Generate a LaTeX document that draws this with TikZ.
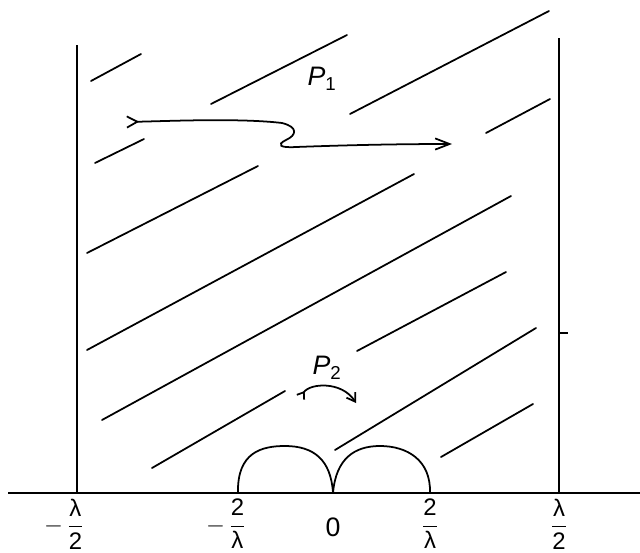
\documentclass[tikz,border=0pt]{standalone}
\usepackage{amsmath}
\usepackage{fontspec}
\setmainfont{Liberation Sans}
\usetikzlibrary{arrows.meta}

\begin{document}
\begin{tikzpicture}[
        x=0.025cm, y=-0.025cm,
        wall/.style={line width=1.3pt},
        ax/.style={line width=1.7pt},
        hl/.style={line width=1.25pt, line cap=round},
        trk/.style={line width=1.25pt, line cap=round},
        lbl/.style={font=\fontsize{17}{19}\selectfont, inner sep=0pt},
        plbl/.style={font=\fontsize{19}{21}\selectfont, inner sep=0pt},
      ]
      \useasboundingbox (0,0) rectangle (640,553);

      % Axis and walls
      \coordinate (ax0) at (8,493);
      \coordinate (ax1) at (640,493);
      \coordinate (wl0) at (77,45);
      \coordinate (wl1) at (77,493);
      \coordinate (wr0) at (559,38);
      \coordinate (wr1) at (559,493);
      \draw[ax] (ax0) -- (ax1);
      \draw[wall] (wl0) -- (wl1);
      \draw[wall] (wr0) -- (wr1);
      \draw[line width=0.9pt] (wr1 |- 0,333) -- ++(9,0);

      % Slanted lines
      \draw[hl] (91,81) -- (141,54);   \draw[hl] (211,104) -- (347,35);
      \draw[hl] (350,114) -- (549,11); \draw[hl] (95,163) -- (144,139);
      \draw[hl] (486,133) -- (550,99); \draw[hl] (87,253) -- (258,166);
      \draw[hl] (87,350) -- (414,174); \draw[hl] (102,420) -- (511,196);
      \draw[hl] (357,351) -- (506,272); \draw[hl] (152,468) -- (285,391);
      \draw[hl] (335,450) -- (536,328); \draw[hl] (441,457) -- (533,404);

      % Bumps
      \coordinate (bm0) at (238,493);
      \coordinate (bm1) at (333,493);
      \coordinate (bm2) at (430,493);
      \draw[hl] (bm0) .. controls (237,452) and (262,446) .. (285,446)
                .. controls (314,446) and (331,460) .. (bm1);
      \draw[hl] (bm1) .. controls (336,458) and (355,446) .. (380,446)
                .. controls (407,446) and (431,460) .. (bm2);

      % Path P1
      \coordinate (p1s) at (126,122);
      \coordinate (p1e) at (452,144);
      \draw[trk, {Straight Barb[reversed, length=2.6mm, width=2.8mm]}-{Straight Barb[length=3.6mm, width=2.8mm]}]
        (p1s) .. controls (170,121) and (240,118) .. (282,123)
              .. controls (298,127) and (297,135) .. (286,140)
              .. controls (276,145) and (280,148) .. (296,147)
              .. controls (350,145) and (400,144) .. (p1e);
      \node[plbl] (pone) at (322,79) {{\itshape P}\textsubscript{1}};

      % Path P2
      \coordinate (p2s) at (300,398);
      \coordinate (p2e) at (356,403);
      \draw[trk, {Straight Barb[reversed, length=1.5mm, width=2.2mm]}-{Straight Barb[length=2mm, width=2.6mm]}]
        (p2s) .. controls (310,383) and (342,381) .. (p2e);
      \node[plbl] (ptwo) at (327,368) {{\itshape P}\textsubscript{2}};

      % Tick labels
      \node[lbl] (lmhalf) at (64,524) {$-\,\dfrac{\text{λ}}{\text{2}}$};
      \node[lbl] (lmtwo) at (226,524) {$-\,\dfrac{\text{2}}{\text{λ}}$};
      \node[font=\fontsize{19}{21}\selectfont, inner sep=0pt] (zero) at (333,527) {0};
      \node[lbl] (ltwo) at (430,524) {$\dfrac{\text{2}}{\text{λ}}$};
      \node[lbl] (lhalf) at (559,524) {$\dfrac{\text{λ}}{\text{2}}$};
      \end{tikzpicture}
\end{document}
